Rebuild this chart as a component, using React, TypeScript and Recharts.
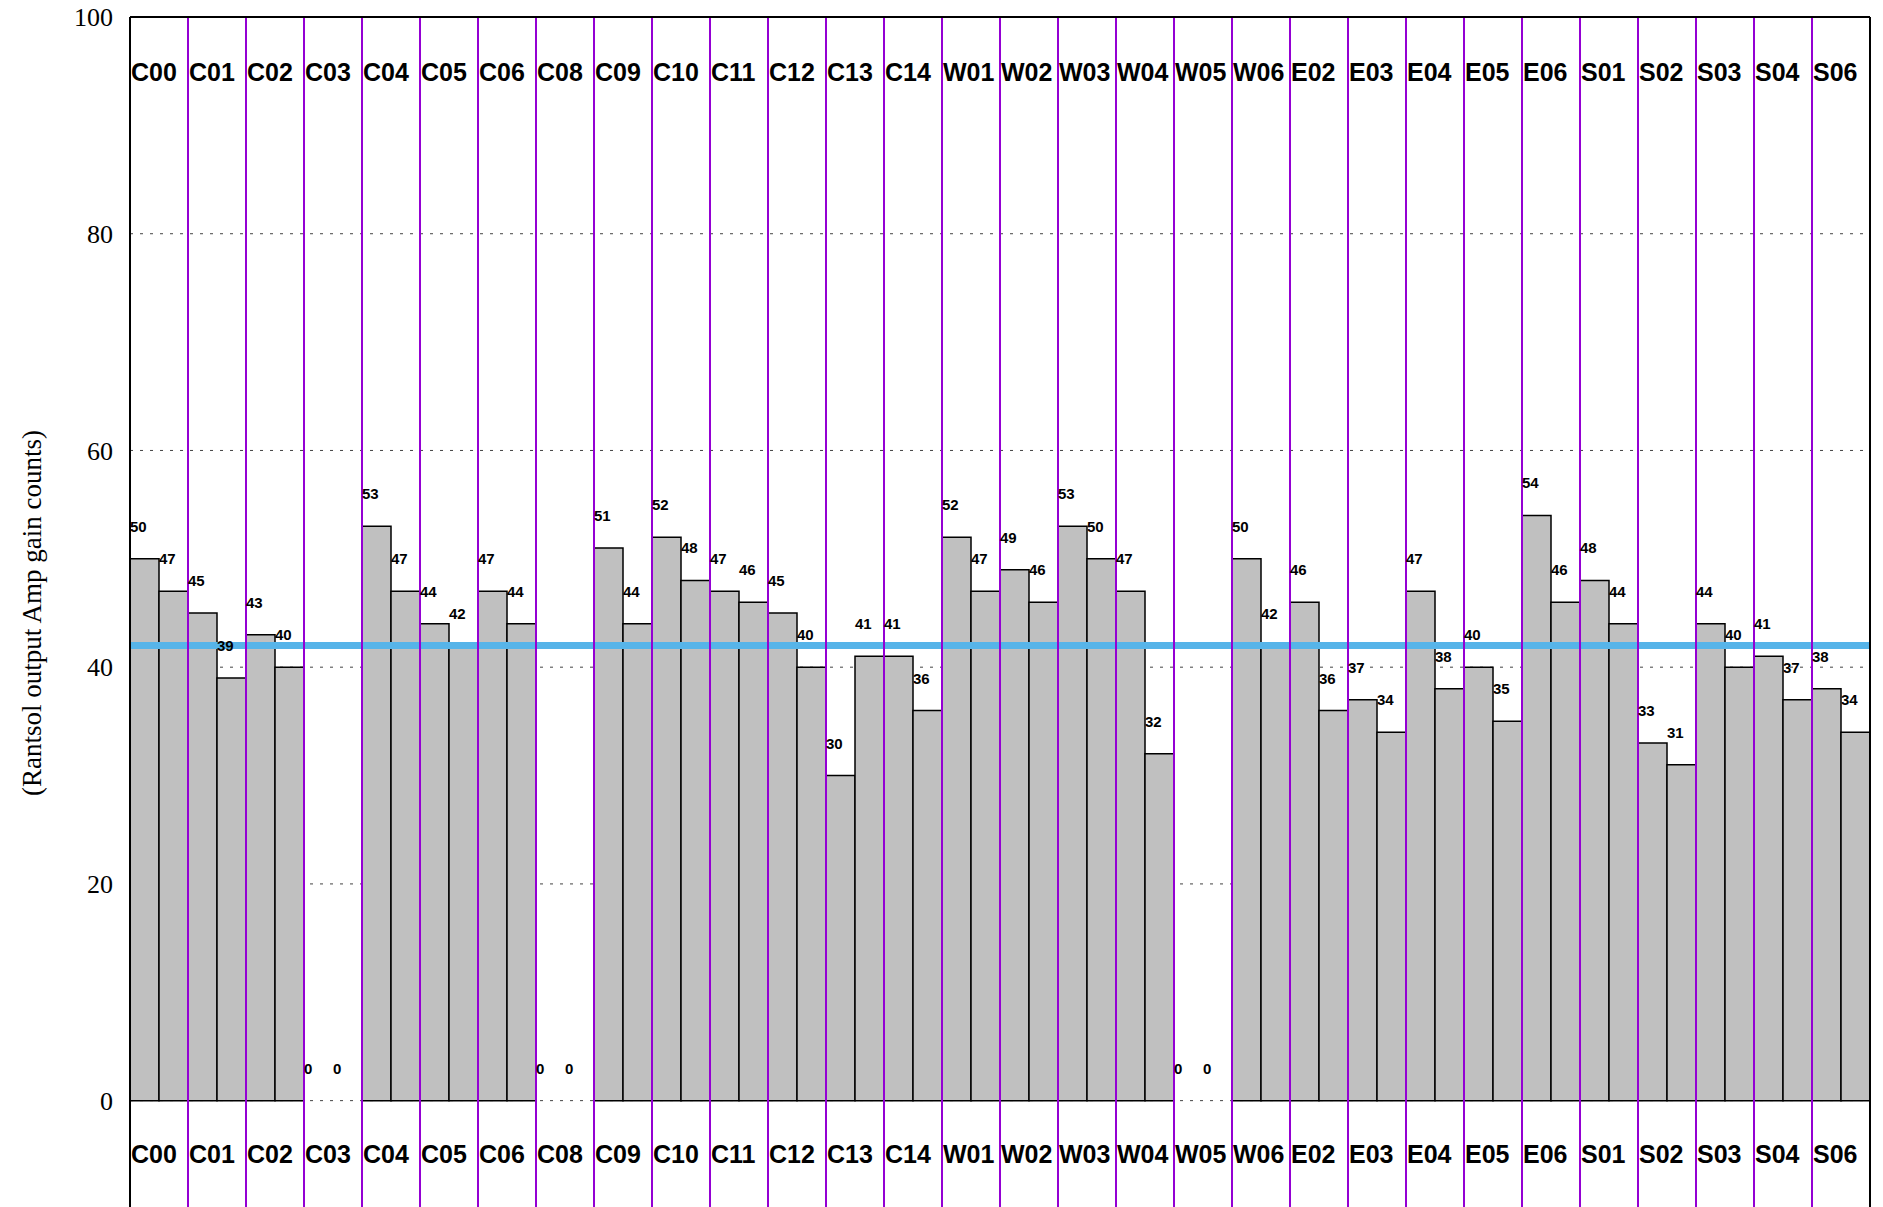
import { ComposedChart, Bar, Line, XAxis, YAxis, CartesianGrid, ReferenceLine, LabelList } from 'recharts';

// channel groups, two amps per group
const groups = [
  'C00', 'C01', 'C02', 'C03', 'C04', 'C05', 'C06', 'C08', 'C09', 'C10',
  'C11', 'C12', 'C13', 'C14', 'W01', 'W02', 'W03', 'W04', 'W05', 'W06',
  'E02', 'E03', 'E04', 'E05', 'E06', 'S01', 'S02', 'S03', 'S04', 'S06',
];
const firstAmp = [50, 45, 43, 0, 53, 44, 47, 0, 51, 52, 47, 45, 30, 41, 52, 49, 53, 47, 0, 50, 46, 37, 47, 40, 54, 48, 33, 44, 41, 38];
const secondAmp = [47, 39, 40, 0, 47, 42, 44, 0, 44, 48, 46, 40, 41, 36, 47, 46, 50, 32, 0, 42, 36, 34, 38, 35, 46, 44, 31, 40, 37, 34];
const yTicks = [0, 20, 40, 60, 80, 100];
const yDomain: [number, number] = [-10, 100];
const targetGain = 42;
const yTitle = '(Rantsol output Amp gain counts)';

const data = groups.flatMap((g, i) => [
  { key: `${g}-a`, group: g, value: firstAmp[i] },
  { key: `${g}-b`, group: g, value: secondAmp[i] },
]);

const WIDTH = 1883;
const HEIGHT = 1209;
const MARGIN = { top: 17, right: 13, bottom: 0, left: 0 };
const Y_AXIS_W = 130;
const PLOT_W = WIDTH - MARGIN.left - MARGIN.right - Y_AXIS_W;
const PLOT_H = HEIGHT - MARGIN.top - MARGIN.bottom;
const UNIT = PLOT_H / (yDomain[1] - yDomain[0]);
const HALF_BAND = PLOT_W / data.length / 2;

const SANS = "'Liberation Sans', Arial, Helvetica, sans-serif";
const SERIF = "'Liberation Serif', 'Times New Roman', serif";

// value label sits 3 units above the bar top, left-aligned to the bar
const renderValueLabel = (props: any) => {
  const vb = props.viewBox ?? props;
  const x = Number(vb.x ?? props.x);
  const y = Number(vb.y ?? props.y);
  return (
    <text x={x - HALF_BAND} y={y - 3 * UNIT} dominantBaseline="central" fontFamily={SANS} fontWeight="bold" fontSize={15} fill="#000">
      {props.value}
    </text>
  );
};

const GroupLabel = ({ viewBox, name }: any) => {
  if (!viewBox) return null;
  const { x, y, height } = viewBox;
  return (
    <g fontFamily={SANS} fontWeight="bold" fontSize={25} fill="#000">
      <text x={x + 1} y={y + 55} dominantBaseline="central">{name}</text>
      <text x={x + 1} y={y + height - 55} dominantBaseline="central">{name}</text>
    </g>
  );
};

const renderYTitle = (props: any) => {
  const vb = props.viewBox;
  if (!vb) return null;
  const cx = vb.x + 32;
  const cy = vb.y + vb.height / 2;
  return (
    <text transform={`translate(${cx}, ${cy}) rotate(-90)`} textAnchor="middle" dominantBaseline="central"
      fontFamily={SERIF} fontSize={27} fill="#000">
      {yTitle}
    </text>
  );
};

export default function App() {
  return (
    <div style={{ position: 'fixed', top: 0, left: 0, width: WIDTH, height: 1207, overflow: 'hidden', background: '#fff' }}>
      <ComposedChart width={WIDTH} height={HEIGHT} data={data} margin={MARGIN} barCategoryGap={0} barGap={0}>
        <CartesianGrid vertical={false} stroke="#444" strokeDasharray="3 7" />
        <XAxis dataKey="key" hide />
        <XAxis
          xAxisId="top"
          dataKey="key"
          orientation="top"
          mirror
          tick={false}
          tickLine={false}
          axisLine={{ stroke: '#000', strokeWidth: 2 }}
        />
        <YAxis
          domain={yDomain}
          ticks={yTicks}
          interval={0}
          allowDataOverflow
          width={Y_AXIS_W}
          tickSize={0}
          tickMargin={17}
          tickLine={false}
          axisLine={{ stroke: '#000', strokeWidth: 2 }}
          tick={{ fontFamily: SERIF, fontSize: 26, fill: '#000' }}
          label={renderYTitle}
        />
        <YAxis
          yAxisId="lt"
          domain={yDomain}
          ticks={yTicks}
          interval={0}
          allowDataOverflow
          mirror
          tick={false}
          tickSize={17}
          axisLine={false}
          tickLine={{ stroke: '#000', strokeWidth: 1.5 }}
        />
        <YAxis
          yAxisId="rt"
          orientation="right"
          domain={yDomain}
          ticks={yTicks}
          interval={0}
          allowDataOverflow
          mirror
          tick={false}
          tickSize={13}
          axisLine={{ stroke: '#000', strokeWidth: 2 }}
          tickLine={{ stroke: '#000', strokeWidth: 1.5 }}
        />
        <Bar dataKey="value" fill="#c0c0c0" stroke="#000" strokeWidth={1.5} isAnimationActive={false} />
        <ReferenceLine y={targetGain} stroke="#56B4E9" strokeWidth={7} />
        {groups.map((g, i) => (
          <ReferenceLine
            key={g}
            x={`${g}-a`}
            position="start"
            stroke={i === 0 ? 'none' : '#9400D3'}
            strokeWidth={2}
            label={<GroupLabel name={g} />}
          />
        ))}
        {/* invisible series carrying the value labels (zero bars included) */}
        <Line dataKey="value" stroke="none" dot={false} activeDot={false} isAnimationActive={false}>
          <LabelList dataKey="value" content={renderValueLabel} />
        </Line>
      </ComposedChart>
    </div>
  );
}
